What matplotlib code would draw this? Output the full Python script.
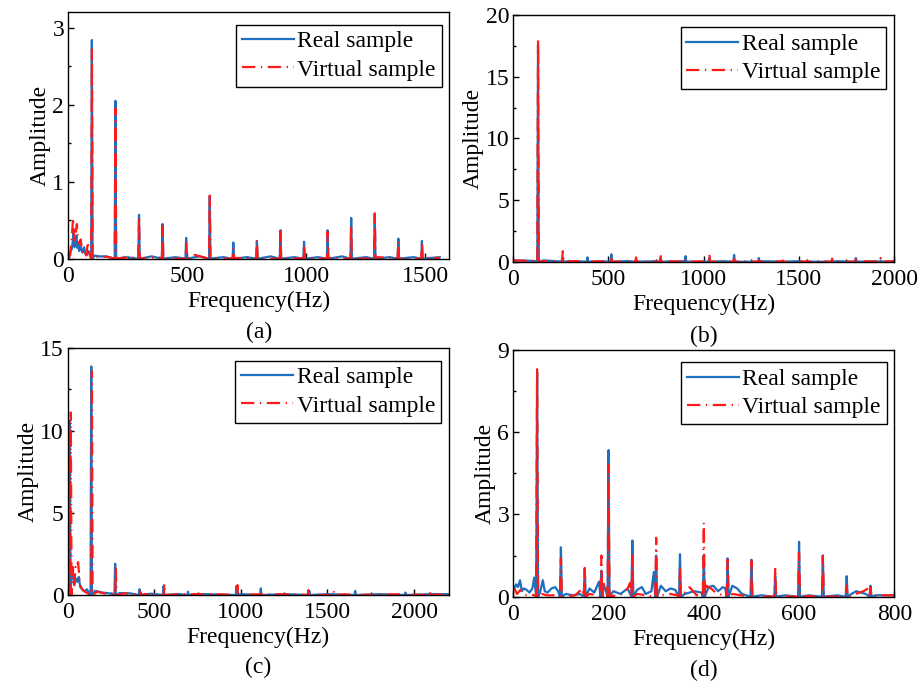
import matplotlib
matplotlib.use('Agg')
import matplotlib.pyplot as plt
import numpy as np

plt.rcParams['font.family'] = ['Liberation Serif', 'DejaVu Serif']
plt.rcParams['mathtext.fontset'] = 'stix'

BLUE = '#1f6fbf'
RED = '#ff1a1a'

# ---------- (a) ----------
a_pk_f = [99, 198, 297, 396, 495, 594, 693, 792, 891, 990, 1089, 1188, 1287, 1386, 1485]
a_real_pk = [2.84, 2.05, 0.57, 0.45, 0.27, 0.81, 0.21, 0.23, 0.37, 0.22, 0.37, 0.53, 0.57, 0.26, 0.23]
a_virt_pk = [2.72, 1.95, 0.55, 0.42, 0.20, 0.82, 0.14, 0.24, 0.36, 0.18, 0.35, 0.42, 0.59, 0.22, 0.22]
a_real_bg_f = [2, 6, 10, 14, 18, 22, 26, 30, 34, 38, 42, 46, 50, 55, 60, 66, 72, 78, 84, 90,
               110, 130, 160, 240, 350, 450, 550, 650, 750, 850, 950, 1050, 1150, 1250, 1350, 1450, 1560]
a_real_bg = [0.02, 0.08, 0.10, 0.12, 0.20, 0.37, 0.15, 0.22, 0.30, 0.14, 0.20, 0.10, 0.18, 0.12, 0.08, 0.15, 0.06, 0.05, 0.10, 0.06,
             0.04, 0.03, 0.03, 0.02, 0.03, 0.02, 0.03, 0.02, 0.02, 0.03, 0.02, 0.02, 0.03, 0.02, 0.02, 0.02, 0.02]
a_virt_bg_f = [2, 8, 14, 20, 26, 30, 36, 40, 46, 52, 58, 64, 70, 76, 82, 86, 92,
               115, 140, 170, 260, 380, 530, 700, 900, 1100, 1300, 1500, 1560]
a_virt_bg = [0.0, 0.05, 0.25, 0.53, 0.20, 0.30, 0.45, 0.25, 0.20, 0.25, 0.10, 0.05, 0.08, 0.04, 0.22, 0.10, 0.03,
             0.02, 0.03, 0.02, 0.02, 0.02, 0.05, 0.01, 0.01, 0.01, 0.02, 0.01, 0.01]

# ---------- (b) ----------
b_pk_f = [130, 260, 390, 515, 645, 775, 905, 1030, 1160, 1290, 1415, 1545, 1675, 1800, 1930]
b_real_pk = [17.5, 0.30, 0.35, 0.60, 0.15, 0.30, 0.45, 0.30, 0.55, 0.30, 0.05, 0.10, 0.05, 0.30, 0.10]
b_virt_pk = [18.0, 0.85, 0.10, 0.40, 0.35, 0.45, 0.20, 0.60, 0.20, 0.10, 0.10, 0.10, 0.25, 0.35, 0.30]
b_real_bg_f = [0, 40, 80, 110, 160, 220, 320, 450, 600, 750, 900, 1100, 1300, 1500, 1700, 1900, 2000]
b_real_bg = [0.08, 0.10, 0.08, 0.06, 0.10, 0.05, 0.05, 0.04, 0.05, 0.04, 0.04, 0.04, 0.04, 0.04, 0.04, 0.04, 0.04]
b_virt_bg_f = [0, 40, 80, 110, 170, 230, 330, 460, 620, 800, 1000, 1200, 1400, 1600, 1850, 2000]
b_virt_bg = [0.12, 0.08, 0.06, 0.05, 0.05, 0.04, 0.05, 0.03, 0.03, 0.04, 0.03, 0.04, 0.03, 0.03, 0.03, 0.03]

# ---------- (c) ----------
c_real_pk_f = [12, 136, 274, 415, 554, 695, 975, 1115, 1395, 1660, 1950]
c_real_pk = [10.6, 13.9, 1.9, 0.35, 0.55, 0.20, 0.55, 0.40, 0.25, 0.25, 0.15]
c_virt_pk_f = [18, 140, 278, 420, 558, 980, 1390, 1535, 1675, 2095]
c_virt_pk = [11.1, 13.6, 1.7, 0.20, 0.70, 0.60, 0.30, 0.25, 0.10, 0.30]
c_real_bg_f = [2, 25, 32, 40, 48, 56, 64, 72, 80, 90, 100, 110, 120, 160, 200, 240, 300, 360, 480,
               640, 800, 1000, 1250, 1500, 1800, 2100, 2200]
c_real_bg = [0.2, 1.6, 1.1, 0.7, 1.0, 0.8, 1.1, 0.5, 0.4, 0.3, 0.2, 0.35, 0.2, 0.25, 0.15, 0.1, 0.12, 0.1, 0.08,
             0.06, 0.05, 0.05, 0.05, 0.05, 0.05, 0.05, 0.05]
c_virt_bg_f = [2, 30, 38, 45, 52, 60, 68, 76, 86, 100, 115, 170, 210, 260, 330, 450, 650, 850, 1100,
               1300, 1600, 1900, 2200]
c_virt_bg = [0.1, 1.7, 0.6, 1.7, 1.6, 2.0, 1.0, 0.5, 0.3, 0.2, 0.1, 0.2, 0.1, 0.08, 0.1, 0.06, 0.05, 0.05, 0.04,
             0.04, 0.04, 0.04, 0.04]

# ---------- (d) ----------
d_pk_f = [50, 100, 150, 185, 200, 250, 300, 350, 400, 450, 500, 550, 600, 650, 700, 750]
d_real_pk = [8.2, 1.8, 1.0, 0.95, 5.35, 2.05, 1.5, 1.55, 1.5, 1.4, 1.35, 0.75, 2.0, 1.5, 0.75, 0.4]
d_virt_pk = [8.3, 1.4, 1.05, 1.5, 4.8, 1.5, 2.15, 1.0, 2.7, 1.35, 1.3, 1.05, 1.6, 1.5, 0.4, 0.35]
d_real_bg_f = [2, 6, 10, 14, 18, 22, 28, 34, 40, 44, 56, 62, 66, 72, 80, 88, 94, 110, 125, 140, 160, 170,
               180, 190, 210, 225, 240, 260, 270, 278, 290, 295, 310, 320, 330, 340, 360, 380, 395, 410, 420,
               430, 440, 445, 460, 470, 480, 520, 570, 620, 680, 710, 720, 730, 740, 760, 780, 800]
d_real_bg = [0.3, 0.45, 0.35, 0.6, 0.2, 0.3, 0.25, 0.15, 0.3, 0.7, 0.15, 0.6, 0.2, 0.15, 0.3, 0.35, 0.2, 0.1, 0.05, 0.1, 0.3, 0.15,
             0.55, 0.45, 0.2, 0.1, 0.3, 0.25, 0.35, 0.1, 0.2, 0.9, 0.4, 0.2, 0.3, 0.25, 0.1, 0.2, 0.15, 0.35, 0.4,
             0.2, 0.35, 0.3, 0.4, 0.3, 0.1, 0.05, 0.05, 0.05, 0.05, 0.1, 0.2, 0.15, 0.1, 0.05, 0.05, 0.05]
d_virt_bg_f = [2, 8, 15, 25, 35, 44, 60, 70, 85, 110, 130, 145, 160, 175, 190, 195, 215, 230, 240, 245,
               260, 280, 310, 330, 345, 370, 385, 395, 405, 415, 425, 460, 500, 560, 620, 700, 735, 745, 770, 800]
d_virt_bg = [0.3, 0.1, 0.25, 0.05, 0.1, 0.05, 0.1, 0.05, 0.05, 0.02, 0.05, 0.3, 0.1, 0.05, 0.5, 0.3, 0.05, 0.1, 0.3, 0.5,
             0.1, 0.05, 0.05, 0.1, 0.05, 0.35, 0.05, 0.2, 0.4, 0.3, 0.15, 0.1, 0.02, 0.02, 0.02, 0.02, 0.2, 0.3, 0.05, 0.05]


def spectrum(bg_f, bg_a, pk_f, pk_a, w):
    # фон + узкие пики
    f = list(bg_f)
    a = list(bg_a)
    for fi, ai in zip(pk_f, pk_a):
        f += [fi - w, fi, fi + w]
        a += [0.0, ai, 0.0]
    idx = np.argsort(f, kind='stable')
    return np.array(f)[idx], np.array(a)[idx]


panels = [
    dict(pos=[68.3, 12.3, 449.3, 258.7], xlim=1600, xt=[0, 500, 1000, 1500], ylim=3.2, yt=[0, 1, 2, 3],
         real=spectrum(a_real_bg_f, a_real_bg, a_pk_f, a_real_pk, 3),
         virt=spectrum(a_virt_bg_f, a_virt_bg, a_pk_f, a_virt_pk, 3), cap='(a)', capy=332),
    dict(pos=[513.3, 15, 894, 261.7], xlim=2000, xt=[0, 500, 1000, 1500, 2000], ylim=20, yt=[0, 5, 10, 15, 20],
         real=spectrum(b_real_bg_f, b_real_bg, b_pk_f, b_real_pk, 4),
         virt=spectrum(b_virt_bg_f, b_virt_bg, b_pk_f, b_virt_pk, 4), cap='(b)', capy=336),
    dict(pos=[67.7, 348.3, 448.7, 595], xlim=2200, xt=[0, 500, 1000, 1500, 2000], ylim=15, yt=[0, 5, 10, 15],
         real=spectrum(c_real_bg_f, c_real_bg, c_real_pk_f, c_real_pk, 4),
         virt=spectrum(c_virt_bg_f, c_virt_bg, c_virt_pk_f, c_virt_pk, 4), cap='(c)', capy=667),
    dict(pos=[513.3, 350, 894.3, 596.7], xlim=800, xt=[0, 200, 400, 600, 800], ylim=9, yt=[0, 3, 6, 9],
         real=spectrum(d_real_bg_f, d_real_bg, d_pk_f, d_real_pk, 2),
         virt=spectrum(d_virt_bg_f, d_virt_bg, d_pk_f, d_virt_pk, 2), cap='(d)', capy=670),
]

W, H = 924, 684
fig = plt.figure(figsize=(W / 100, H / 100), dpi=100)

for p in panels:
    x0, y0, x1, y1 = p['pos']
    ax = fig.add_axes([x0 / W, 1 - y1 / H, (x1 - x0) / W, (y1 - y0) / H])
    ax.plot(*p['real'], color=BLUE, lw=1.6, label='Real sample')
    ax.plot(*p['virt'], color=RED, lw=1.6, dashes=(6, 2.5, 0.6, 2.5), label='Virtual sample')
    ax.set_xlim(0, p['xlim'])
    ax.set_ylim(0, p['ylim'])
    ax.set_xticks(p['xt'])
    ax.set_yticks(p['yt'])
    ax.set_xticks([(p['xt'][i] + p['xt'][i + 1]) / 2 for i in range(len(p['xt']) - 1)], minor=True)
    ax.set_yticks([(p['yt'][i] + p['yt'][i + 1]) / 2 for i in range(len(p['yt']) - 1)], minor=True)
    ax.tick_params(which='both', direction='in', labelsize=17, width=1)
    ax.tick_params(axis='x', which='both', pad=5)
    ax.tick_params(axis='y', which='both', pad=3)
    ax.tick_params(which='major', length=4)
    ax.tick_params(which='minor', length=2.5)
    for s in ax.spines.values():
        s.set_linewidth(1.0)
    ax.set_xlabel('Frequency(Hz)', fontsize=17, labelpad=3)
    ax.set_ylabel('Amplitude', fontsize=17, labelpad=1)
    leg = ax.legend(loc='upper right', bbox_to_anchor=(0.98, 0.95), fontsize=17, frameon=True,
                    fancybox=False, edgecolor='black', framealpha=1, handlelength=2.2,
                    handletextpad=0.15, borderpad=0.25, labelspacing=0.3, borderaxespad=0)
    leg.get_frame().set_linewidth(1.0)
    fig.text((x0 + x1) / 2 / W, 1 - p['capy'] / H, p['cap'], ha='center', va='center', fontsize=17)

fig.savefig('out.png', dpi=100)
